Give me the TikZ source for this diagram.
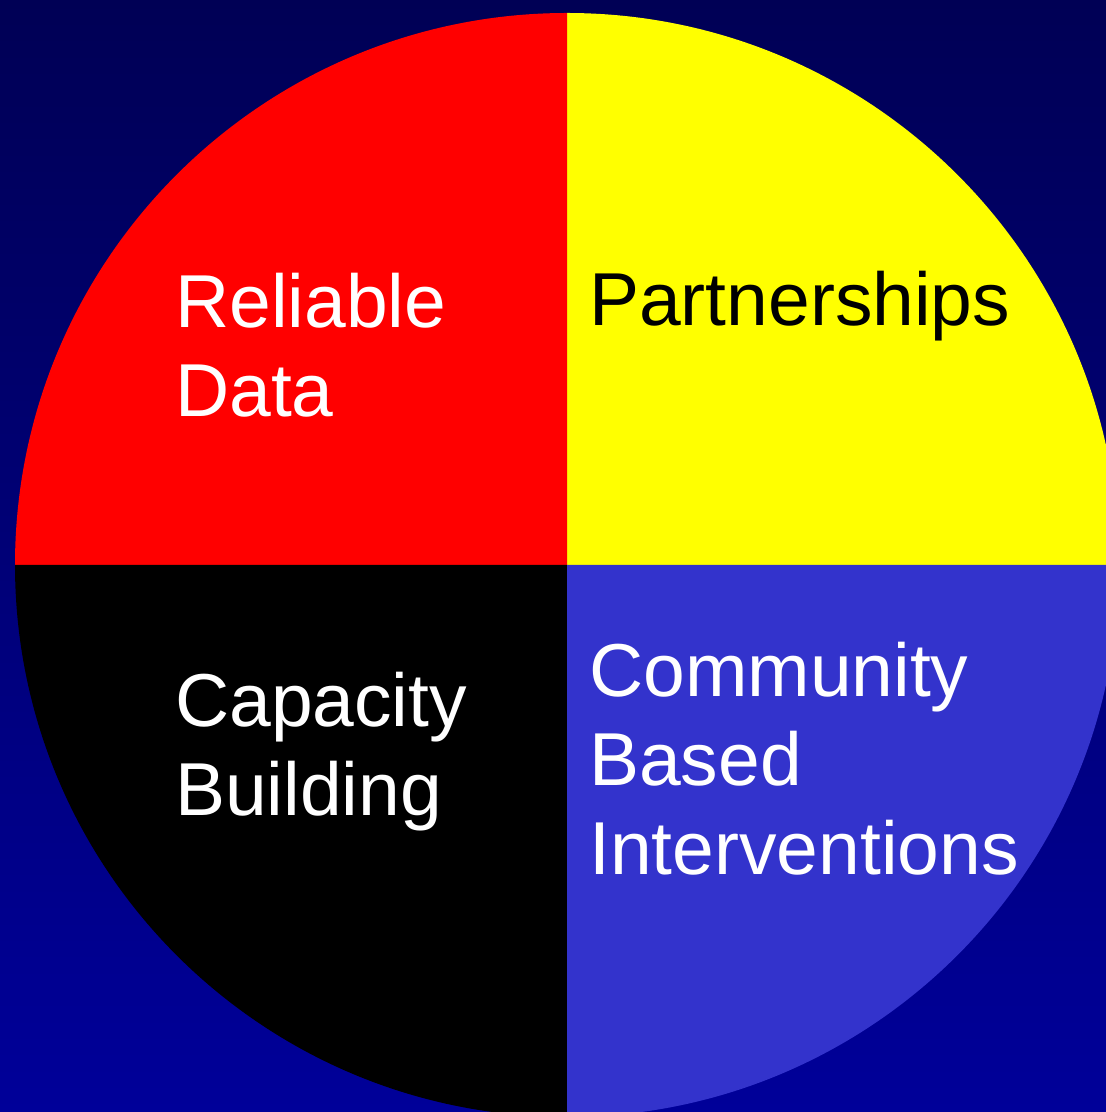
\documentclass[tikz,border=0pt]{standalone}
\usepackage{fontspec}
\setmainfont{Liberation Sans}
\usetikzlibrary{positioning}
\definecolor{bgtop}{HTML}{000055}
\definecolor{bgbottom}{HTML}{000099}
\definecolor{commblue}{HTML}{3333CC}
\definecolor{partyellow}{HTML}{FFFF00}
\definecolor{datared}{HTML}{FF0000}
\tikzstyle{quadtext} = [anchor=base west, align=left, inner sep=0pt, font=\fontsize{75}{89}\selectfont]
\tikzstyle{quarter} = [draw=none]

\begin{document}
\begin{tikzpicture}[x=1pt, y=1pt]
    \useasboundingbox (0,0) rectangle (1106,1112);
    \shade[top color=bgtop, bottom color=bgbottom] (0,0) rectangle (1106,1112);
    \clip (0,0) rectangle (1106,1112);
    \coordinate (centre) at (567,547);

    % the four quarters of the wheel
    \fill[quarter, partyellow] (centre) -- ++(0:552) arc[start angle=0, end angle=90, radius=552] -- cycle;
    \fill[quarter, datared] (centre) -- ++(90:552) arc[start angle=90, end angle=180, radius=552] -- cycle;
    \fill[quarter, black] (centre) -- ++(180:552) arc[start angle=180, end angle=270, radius=552] -- cycle;
    \fill[quarter, commblue] (centre) -- ++(270:552) arc[start angle=270, end angle=360, radius=552] -- cycle;

    % base anchor sits on the last line
    \node (reliable) [quadtext, white] at (175,695) {Reliable\\Data};
    \node (partners) [quadtext, black] at (589,786) {Partnerships};
    \node (capacity) [quadtext, white] at (175,296) {Capacity\\Building};
    \node (community) [quadtext, white] at (589,237) {Community\\Based\\Interventions};
\end{tikzpicture}
\end{document}
